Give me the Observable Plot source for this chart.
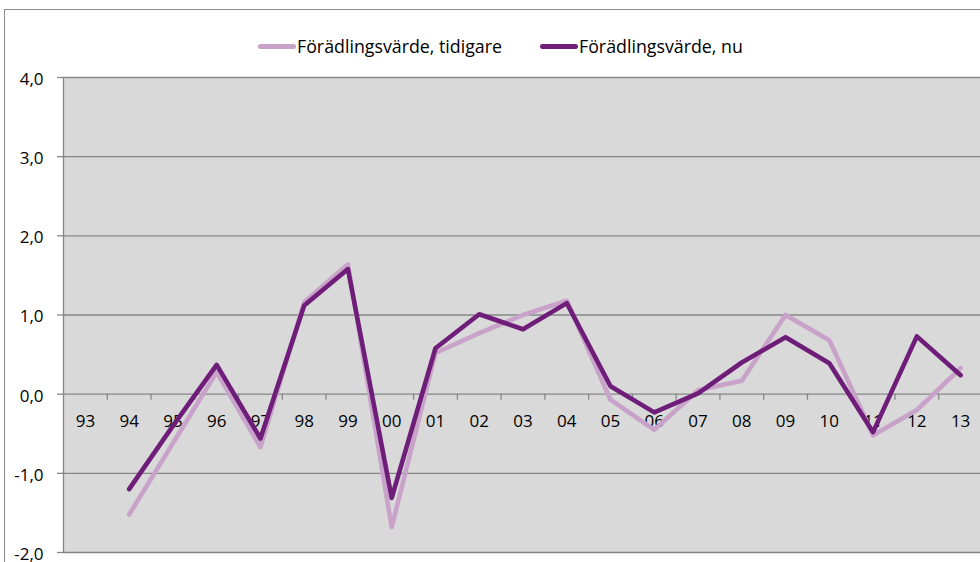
<!DOCTYPE html>
<html>
<head>
<meta charset="utf-8">
<script src="https://cdn.jsdelivr.net/npm/d3@7"></script>
<script src="https://cdn.jsdelivr.net/npm/@observablehq/plot@0.6"></script>
<style>
  html, body { margin: 0; padding: 0; background: #fff; overflow: hidden; }
  #wrap { position: relative; width: 980px; height: 562px; overflow: hidden; font-family: "Open Sans", "Noto Sans", sans-serif; }
  #frame { position: absolute; left: 4px; top: 9px; width: 1000px; height: 600px; border-left: 1px solid #8c8c8c; border-top: 1px solid #8c8c8c; }
  #chart { position: absolute; left: 0; top: 0; width: 1000px; }
  #chart svg { max-width: none !important; }
  #legend { position: absolute; top: 33px; left: 0; width: 980px; height: 26px; }
  .item { position: absolute; top: 0; height: 26px; display: flex; align-items: center; font-size: 17.8px; color: #000; white-space: nowrap; }
  .sw { width: 38px; height: 5px; border-radius: 2.5px; margin-right: 1px; }
</style>
</head>
<body>
<div id="wrap">
  <div id="frame"></div>
  <div id="chart"></div>
  <div id="legend"></div>
</div>
<script>
const categories = ["93","94","95","96","97","98","99","00","01","02","03","04","05","06","07","08","09","10","11","12","13"];
const seriesNames = ["Förädlingsvärde, tidigare", "Förädlingsvärde, nu"];
const tidigare = [null,-1.52,-0.62,0.28,-0.67,1.16,1.64,-1.68,0.52,0.77,1.0,1.18,-0.07,-0.45,0.05,0.17,1.0,0.68,-0.52,-0.20,0.33];
const nu       = [null,-1.20,-0.40,0.37,-0.56,1.12,1.58,-1.31,0.58,1.01,0.82,1.15,0.10,-0.23,0.01,0.40,0.72,0.39,-0.48,0.73,0.24];
const yTicks = [-2,-1,0,1,2,3,4];
const colors = ["#c8a2c9", "#6e1d79"];

const rows = [];
categories.forEach((c, i) => {
  if (tidigare[i] != null) rows.push({i, cat: c, s: seriesNames[0], v: tidigare[i]});
});
categories.forEach((c, i) => {
  if (nu[i] != null) rows.push({i, cat: c, s: seriesNames[1], v: nu[i]});
});
const idx = categories.map((c, i) => ({i, cat: c}));
const bounds = d3.range(1, categories.length).map(k => k - 0.5);

const fmt = d => d3.format(".1f")(d).replace(".", ",").replace("−", "-");

const chart = Plot.plot({
  width: 1000,
  height: 562,
  marginLeft: 63,
  marginRight: 18,
  marginTop: 77,
  marginBottom: 10,
  style: {fontFamily: "'Open Sans', 'Noto Sans', sans-serif", background: "transparent", overflow: "visible", maxWidth: "none"},
  x: {type: "linear", domain: [-0.5, categories.length - 0.5], axis: null},
  y: {domain: [-2, 4], axis: null},
  color: {domain: seriesNames, range: colors},
  marks: [
    Plot.frame({fill: "#d9d9d9", stroke: null}),
    Plot.ruleY(yTicks, {stroke: "#868686", strokeWidth: 1.3}),
    Plot.ruleY(yTicks, {x1: -0.5, x2: -0.5, insetLeft: -6, stroke: "#868686", strokeWidth: 1.3, clip: false}),
    Plot.ruleX([-0.5], {stroke: "#868686", strokeWidth: 1.3}),
    Plot.ruleX(bounds, {y1: 0, y2: 0, insetBottom: -6, stroke: "#868686", strokeWidth: 1.3}),
    Plot.text(yTicks, {x: -0.5, y: d => d, text: fmt, textAnchor: "end", dx: -20, dy: 2, fontSize: 17, fill: "#000"}),
    Plot.text(idx, {x: "i", y: 0, text: "cat", dy: 27, fontSize: 17, fill: "#000"}),
    Plot.line(rows, {x: "i", y: "v", z: "s", stroke: "s", strokeWidth: 4.6, strokeLinejoin: "round", strokeLinecap: "round"})
  ]
});
document.getElementById("chart").appendChild(chart);

const legend = document.getElementById("legend");
const positions = [258, 540];
seriesNames.forEach((n, k) => {
  const it = document.createElement("div");
  it.className = "item";
  it.style.left = positions[k] + "px";
  const sw = document.createElement("div");
  sw.className = "sw";
  sw.style.background = colors[k];
  const t = document.createElement("span");
  t.textContent = n;
  it.appendChild(sw); it.appendChild(t);
  legend.appendChild(it);
});
</script>
</body>
</html>
